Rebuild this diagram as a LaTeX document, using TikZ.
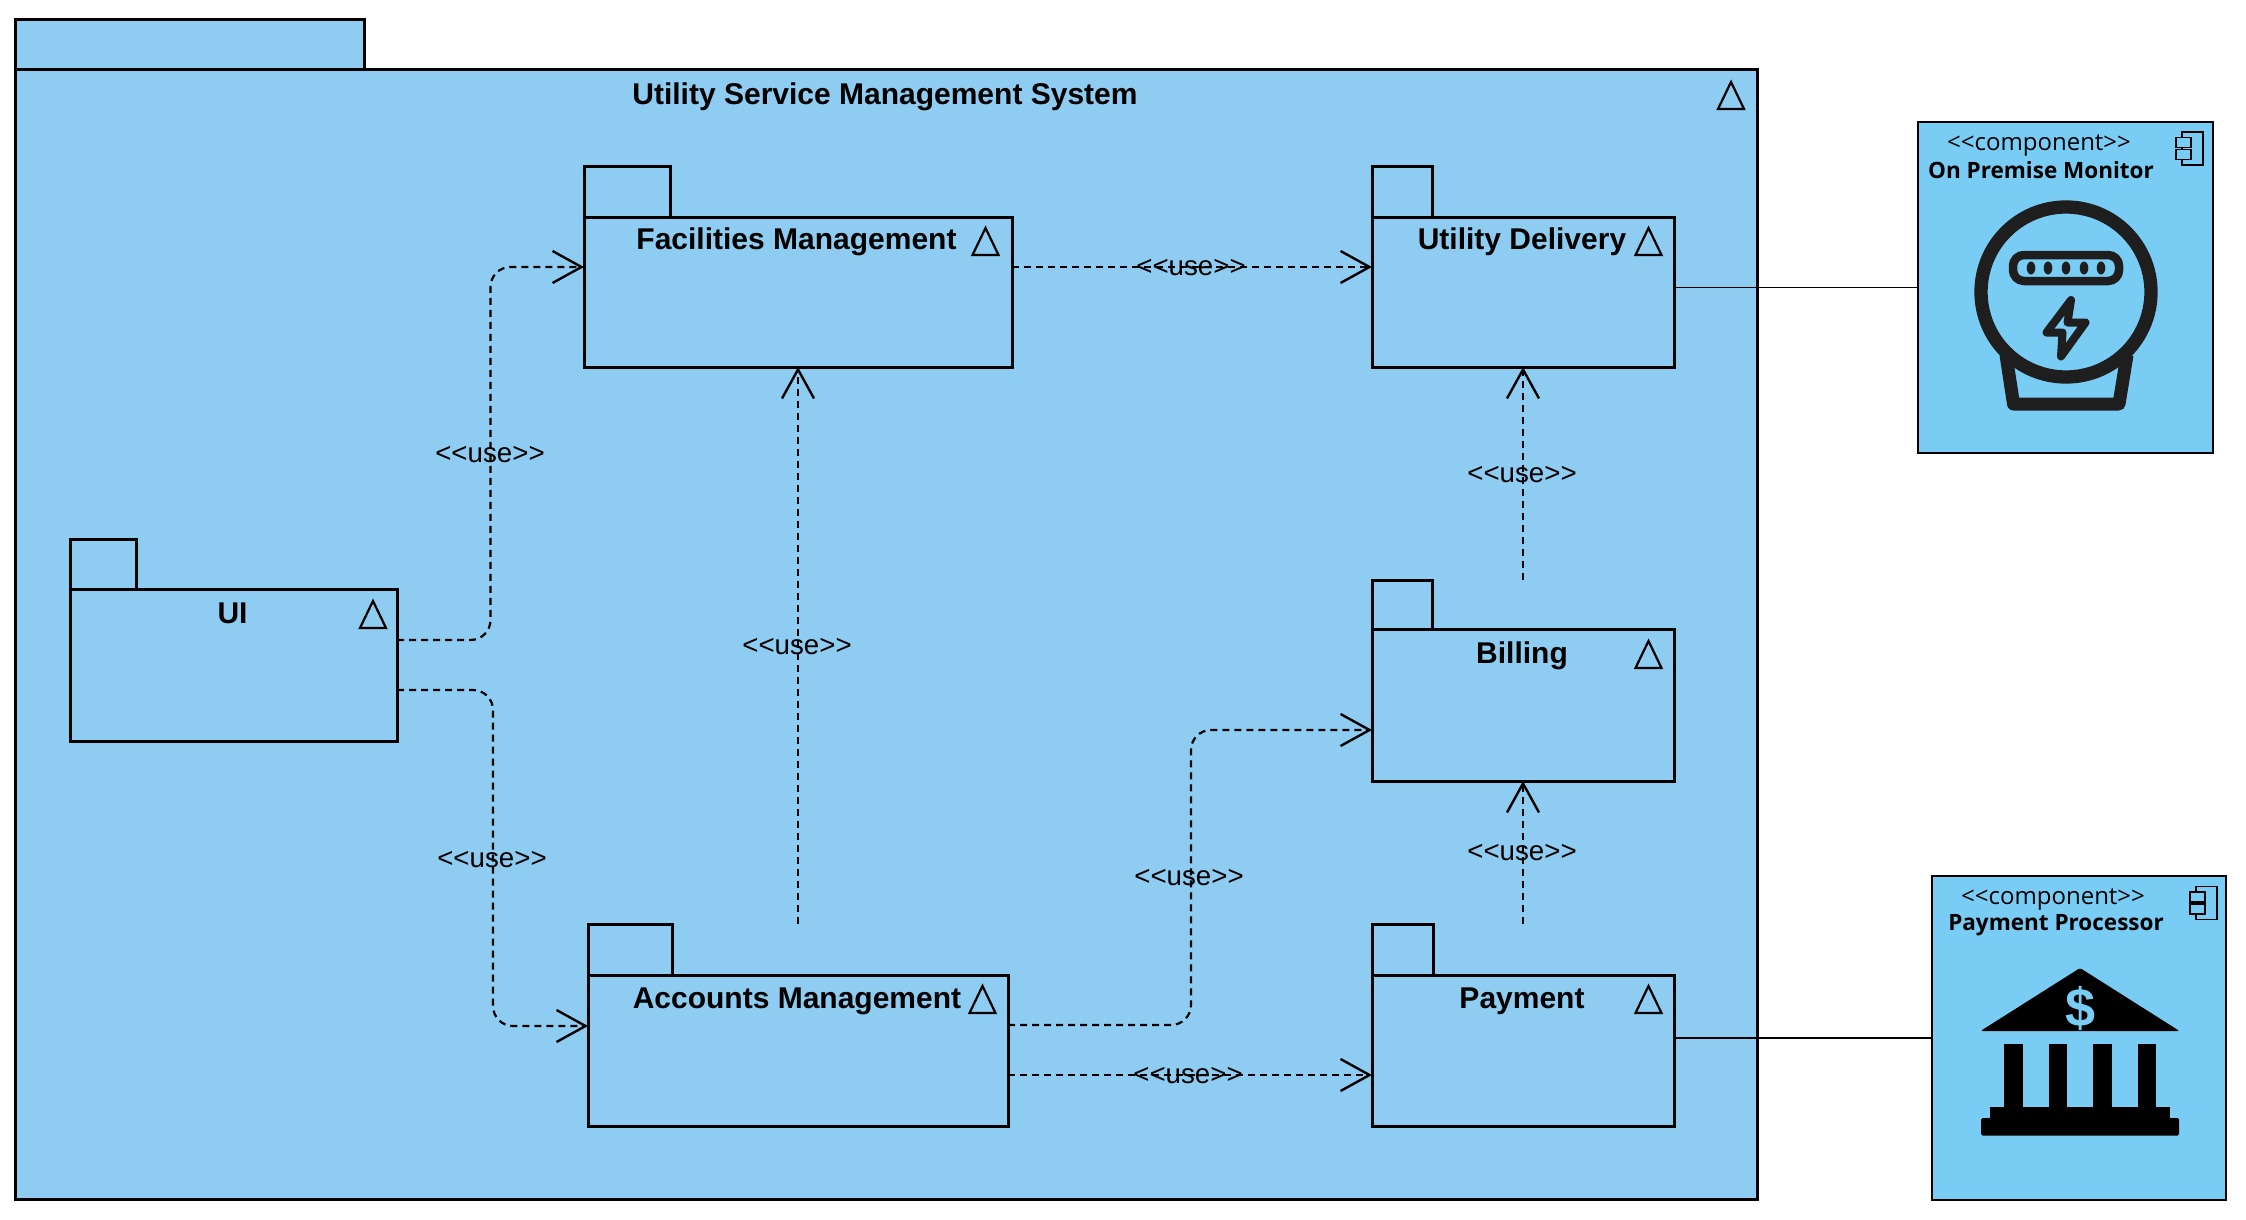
\documentclass[tikz,border=0pt]{standalone}
\usepackage{fontspec}
\setmainfont{Liberation Sans}
\newfontfamily\compfont{Open Sans}
\usetikzlibrary{arrows.meta,positioning}

\definecolor{pkgblue}{RGB}{142,205,241}
\definecolor{compblue}{RGB}{121,205,245}
\definecolor{iconink}{RGB}{30,30,30}

\newcommand{\usetag}{<{}<use>{}>}
\newcommand{\comptag}{<{}<component>{}>}

\tikzset{
  pkgbody/.style={draw, fill=pkgblue, line width=3pt, inner sep=0pt, outer sep=0pt},
  comp/.style={draw, fill=compblue, line width=1.8pt, inner sep=0pt, outer sep=0pt},
  pkgtitle/.style={inner sep=0pt, font=\fontsize{30}{32}\selectfont\bfseries},
  usetext/.style={inner sep=0pt, font=\fontsize{27.7}{30}\selectfont},
  stereotext/.style={inner sep=0pt, font=\compfont\fontsize{24}{26}\selectfont},
  compname/.style={inner sep=0pt, font=\compfont\fontsize{22.5}{24}\selectfont\bfseries},
  usedep/.style={line width=2.2pt, dash pattern=on 7pt off 5pt, rounded corners=20pt,
    -{Straight Barb[length=29pt,width=32pt,line width=2.4pt]}},
  wire/.style={line width=1.5pt},
  pkgmark/.pic={\draw[line width=2.2pt, miter limit=3] (-13,0) -- (0,-27) -- (13,0) -- cycle;},
  compmark/.pic={
    \draw[line width=1.8pt] (6,-16.5) rectangle (27,16.5);
    \draw[line width=1.8pt, fill=compblue] (0,-11) rectangle (15,-1);
    \draw[line width=1.8pt, fill=compblue] (0,1) rectangle (15,11);
  }
}

\begin{document}
\begin{tikzpicture}[x=1pt,y=-1pt]
\useasboundingbox (0,0) rectangle (2246,1220);

% outer package
\node[pkgbody, minimum width=349pt, minimum height=51pt] (systab) at (189.5,45.5) {};
\node[pkgbody, minimum width=1742pt, minimum height=1129pt] (sys) at (886,634.5) {};
\node[pkgtitle] (systitle) at (885,96.5) {Utility Service Management System};
\pic at (1731,109) {pkgmark};

% facilities
\node[pkgbody, minimum width=86pt, minimum height=51pt] (factab) at (627,191.5) {};
\node[pkgbody, minimum width=428pt, minimum height=150pt] (fac) at (798,292) {};
\node[pkgtitle] (factitle) at (796.5,242) {Facilities Management};
\pic at (985.5,255) {pkgmark};

% utility delivery
\node[pkgbody, minimum width=60pt, minimum height=51pt] (utiltab) at (1402,191.5) {};
\node[pkgbody, minimum width=302pt, minimum height=150pt] (util) at (1523,292) {};
\node[pkgtitle] (utiltitle) at (1522,242) {Utility Delivery};
\pic at (1648.5,255) {pkgmark};

% ui
\node[pkgbody, minimum width=66pt, minimum height=50pt] (uitab) at (103,564) {};
\node[pkgbody, minimum width=327pt, minimum height=152pt] (ui) at (233.5,665) {};
\node[pkgtitle] (uititle) at (232.5,613) {UI};
\pic at (373,628) {pkgmark};

% billing
\node[pkgbody, minimum width=60pt, minimum height=49pt] (billtab) at (1402,604.5) {};
\node[pkgbody, minimum width=302pt, minimum height=152pt] (bill) at (1523,705) {};
\node[pkgtitle] (billtitle) at (1522,656) {Billing};
\pic at (1648.5,668) {pkgmark};

% accounts
\node[pkgbody, minimum width=84pt, minimum height=51pt] (acctab) at (630,949.5) {};
\node[pkgbody, minimum width=420pt, minimum height=151pt] (acc) at (798,1050.5) {};
\node[pkgtitle] (acctitle) at (797,1001) {Accounts Management};
\pic at (982.5,1013) {pkgmark};

% payment
\node[pkgbody, minimum width=61pt, minimum height=51pt] (paytab) at (1402.5,949.5) {};
\node[pkgbody, minimum width=302pt, minimum height=151pt] (pay) at (1523,1050.5) {};
\node[pkgtitle] (paytitle) at (1522,1001) {Payment};
\pic at (1648.5,1013) {pkgmark};

% components
\node[comp, minimum width=295pt, minimum height=331pt] (meter) at (2065.5,287.5) {};
\node[stereotext] (metertag) at (2039,145) {\comptag};
\node[compname] (metername) at (2041,170) {On Premise Monitor};
\pic at (2176,148.5) {compmark};

\node[comp, minimum width=294pt, minimum height=324pt] (proc) at (2079,1038) {};
\node[stereotext] (proctag) at (2053,899) {\comptag};
\node[compname] (procname) at (2056,925) {Payment Processor};
\pic at (2190,903) {compmark};

% meter icon
\draw[iconink, line width=13pt, line join=round] (2006,355) -- (2013.5,404) -- (2119,404) -- (2127,355);
\draw[iconink, line width=13.3pt] (2066,292) circle (85);
\draw[iconink, line width=8.5pt, rounded corners=11pt] (2013,255) rectangle (2119,281);
\foreach \dotx in {2031,2048,2066,2084,2101}
  \fill[iconink] (\dotx,268) ellipse (4.3 and 6.5);
\draw[iconink, line width=8pt, line join=round] (2071,300) -- (2046.5,332.5) -- (2062.5,332.5)
  -- (2061,356.5) -- (2085.5,322.5) -- (2067.5,322.5) -- cycle;

% bank icon
\fill[black, rounded corners=1.5pt] (2080,968) -- (2179.5,1031) -- (1980.5,1031) -- cycle;
\node[inner sep=0pt, text=compblue, font=\fontsize{54}{54}\selectfont\bfseries] (dollar) at (2080,1008) {\$};
\foreach \colx in {2004,2048.5,2093,2137.5}
  \fill[black] (\colx,1044) rectangle ++(18.5,66);
\fill[black] (1990,1107) rectangle (2170,1120);
\fill[black, rounded corners=1.5pt] (1981,1118) rectangle (2179,1135.5);

% use dependencies
\draw[usedep] ([yshift=25pt]ui.east) -- (490.5,640) -- (490.5,267) -- ([yshift=25pt]fac.west);
\draw[usedep] ([yshift=-25pt]ui.east) -- (493,690) -- (493,1026) -- ([yshift=24.5pt]acc.west);
\draw[usedep] (acctab.north -| acc.north) -- (fac.south);
\draw[usedep] ([yshift=25pt]fac.east) -- ([yshift=25pt]util.west);
\draw[usedep] (billtab.north -| bill.north) -- (util.south);
\draw[usedep] (paytab.north -| pay.north) -- (bill.south);
\draw[usedep] ([yshift=25.5pt]acc.east) -- (1191,1025) -- (1191,730) -- ([yshift=-25pt]bill.west);
\draw[usedep] ([yshift=-24.5pt]acc.east) -- ([yshift=-24.5pt]pay.west);

\node[usetext] (usea) at (490,454.5) {\usetag};
\node[usetext] (useb) at (492,859.5) {\usetag};
\node[usetext] (usec) at (797,646.5) {\usetag};
\node[usetext] (used) at (1191,267.5) {\usetag};
\node[usetext] (usee) at (1522,474.5) {\usetag};
\node[usetext] (usef) at (1189,877.5) {\usetag};
\node[usetext] (useg) at (1522,852.5) {\usetag};
\node[usetext] (useh) at (1188,1076) {\usetag};

% wires to components
\draw[wire] (util.east |- meter.west) -- (meter.west);
\draw[wire] (pay.east |- proc.west) -- (proc.west);

\end{tikzpicture}
\end{document}
